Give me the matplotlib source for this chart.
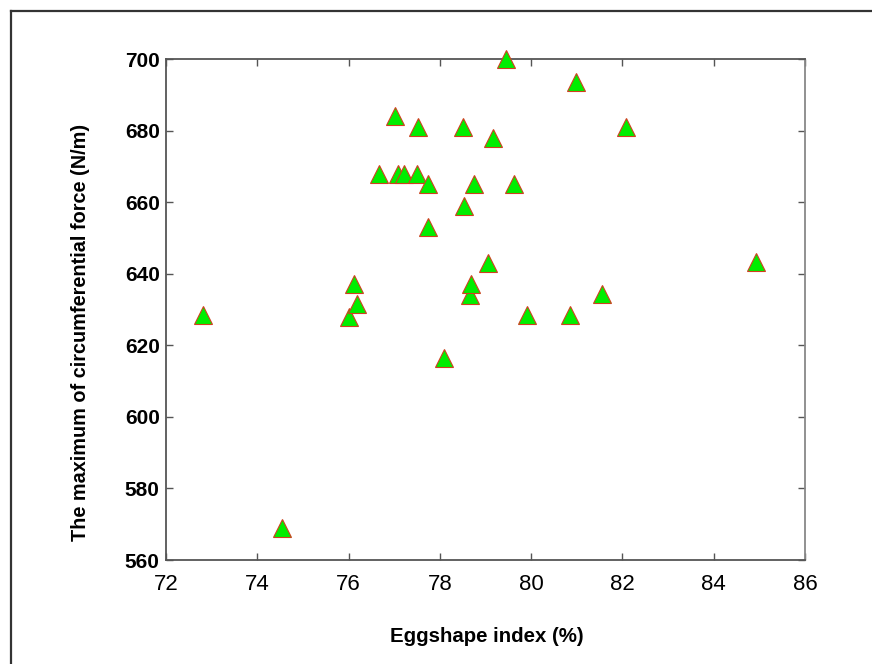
import matplotlib
matplotlib.use('Agg')
import matplotlib.pyplot as plt
from matplotlib.lines import Line2D

# 蛋形指数 vs 最大周向力
eggshape_index = [72.82, 74.53, 76.00, 76.12, 76.19, 76.67, 77.02, 77.08, 77.22, 77.50,
                  77.53, 77.73, 77.73, 78.09, 78.51, 78.53, 78.65, 78.68, 78.75, 79.06,
                  79.17, 79.45, 79.62, 79.90, 80.84, 80.98, 81.55, 82.07, 84.93]
max_force = [628.5, 569.0, 628.0, 637.0, 631.5, 668.0, 684.0, 668.0, 668.0, 668.0,
             681.0, 665.0, 653.0, 616.5, 681.0, 659.0, 634.0, 637.0, 665.0, 643.0,
             678.0, 700.0, 665.0, 628.5, 628.5, 693.7, 634.4, 681.0, 643.4]

x_ticks = [72, 74, 76, 78, 80, 82, 84, 86]
y_ticks = [560, 580, 600, 620, 640, 660, 680, 700]

plt.rcParams['font.family'] = ['Liberation Sans', 'DejaVu Sans']

fig = plt.figure(figsize=(8.72, 6.64), dpi=100)
ax = fig.add_axes([0.1904, 0.1566, 0.7328, 0.7545])

ax.plot(eggshape_index, max_force, linestyle='none', marker='^', markersize=12.5,
        markerfacecolor='#00ee00', markeredgecolor='#d04020', markeredgewidth=0.8,
        clip_on=False, zorder=3)

ax.set_xlim(72, 86)
ax.set_ylim(560, 700)
ax.set_xticks(x_ticks)
ax.set_yticks(y_ticks)
ax.set_xticklabels([str(t) for t in x_ticks], fontsize=16)
ax.set_yticklabels([str(t) for t in y_ticks], fontsize=15, fontweight='bold')
ax.tick_params(direction='in', top=True, right=True, length=5, width=1,
               color='#555555')
ax.tick_params(axis='x', pad=10)
ax.tick_params(axis='y', pad=4.5)

for name, sp in ax.spines.items():
    sp.set_color('#555555' if name in ('left', 'bottom', 'top') else '#888888')
    sp.set_linewidth(1.3)

ax.set_xlabel('Eggshape index (%)', fontsize=14.7, fontweight='bold', va='center')
ax.xaxis.set_label_coords(0.502, -0.1517)
ax.set_ylabel('The maximum of circumferential force (N/m)', fontsize=14.3,
              fontweight='bold', va='center')
ax.yaxis.set_label_coords(-0.1346, 0.455)

# 外边框（左、上）
fig.add_artist(Line2D([10.5 / 872, 10.5 / 872], [0, 1 - 11 / 664],
                      transform=fig.transFigure, color='#333333', linewidth=1.6))
fig.add_artist(Line2D([10.5 / 872, 1], [1 - 11 / 664, 1 - 11 / 664],
                      transform=fig.transFigure, color='#333333', linewidth=1.6))

fig.savefig('out.png', dpi=100)
plt.close(fig)
